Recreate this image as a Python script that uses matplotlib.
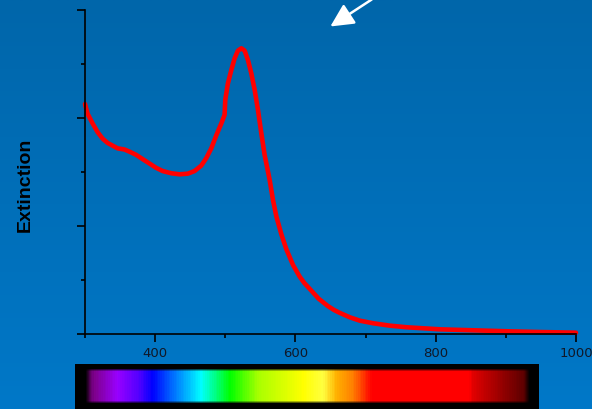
import numpy as np
import matplotlib
matplotlib.use("Agg")
import matplotlib.pyplot as plt
from matplotlib.colors import LinearSegmentedColormap, to_rgb
from matplotlib.patches import FancyArrowPatch

# ---- data ----
wavelength = [300, 303.7, 310.9, 318, 325.1, 332.3, 339.4, 346.6, 356.1, 363.3,
              372.9, 382.3, 391.9, 401.4, 410.9, 422.9, 434.7, 446.6, 456.1, 465.7,
              472.9, 480, 487.1, 494.3, 499, 500, 503.7, 508.6, 513.3, 518,
              522.9, 527.6, 532.3, 537.1, 541.9, 546.6, 551.4, 556.1, 563.3,
              568, 572.9, 580, 587.1, 596.6, 606.1, 613, 620.4, 633, 646.1, 655,
              663.3, 677.6, 691.9, 710.9, 734.7, 758.6, 806.1, 853.7, 901.4, 949,
              1000]
extinction = [2.13, 2.04, 1.95, 1.87, 1.81, 1.77, 1.745, 1.72, 1.71, 1.69,
              1.66, 1.62, 1.58, 1.54, 1.51, 1.49, 1.48, 1.486, 1.51, 1.56,
              1.63, 1.72, 1.84, 1.95, 2.03, 2.17, 2.32, 2.445, 2.553, 2.624,
              2.646, 2.624, 2.537, 2.414, 2.26, 2.075, 1.859, 1.659, 1.427,
              1.242, 1.088, 0.924, 0.786, 0.641, 0.533, 0.472, 0.42, 0.33, 0.262, 0.225,
              0.198, 0.157, 0.126, 0.102, 0.08, 0.065, 0.046, 0.037, 0.028, 0.021,
              0.015]
x_major = [400, 600, 800, 1000]
x_minor = [300, 500, 700, 900]
x_labels = ["400", "600", "800", "1000"]
y_major = [0, 1, 2, 3]
y_minor = [0.5, 1.5, 2.5]
y_label = "Extinction"

# spectrum strip colour stops (relative position in strip, colour)
strip_pos = [0.0, 0.02, 0.07, 0.12, 0.15, 0.19, 0.26, 0.325, 0.39, 0.49,
             0.535, 0.566, 0.602, 0.645, 0.865, 0.875, 1.0]
strip_col = ["#500050", "#800090", "#9900ff", "#5000ff", "#0000ff", "#0060ff",
             "#00ffff", "#00ff00", "#aaff00", "#ffff00", "#ffff40", "#ffb000",
             "#ff8000", "#ff0000", "#ff0000", "#e00000", "#500000"]

W, H = 592, 409
fig = plt.figure(figsize=(W / 100, H / 100), dpi=100)

# background gradient
bg = fig.add_axes([0, 0, 1, 1], zorder=-10)
top = np.array(to_rgb("#0066aa"))
bot = np.array(to_rgb("#0078c8"))
t = np.linspace(0, 1, 256)[:, None]
grad = (top[None, :] * (1 - t) + bot[None, :] * t)[:, None, :]
bg.imshow(grad, aspect="auto", extent=[0, 1, 0, 1], interpolation="bilinear")
bg.set_axis_off()

# main axes
L, R, T, B = 85.0, 576.0, 10.0, 334.3
ax = fig.add_axes([L / W, 1 - B / H, (R - L) / W, (B - T) / H])
ax.patch.set_alpha(0)
ax.plot(wavelength, extinction, color="#ff0000", lw=3.3,
        solid_joinstyle="round", solid_capstyle="round", clip_on=False)
ax.set_xlim(300, 1000)
ax.set_ylim(0, 3)
for s in ["top", "right"]:
    ax.spines[s].set_visible(False)
for s in ["left", "bottom"]:
    ax.spines[s].set_linewidth(1.2)
    ax.spines[s].set_color("black")
ax.set_xticks(x_major)
ax.set_xticklabels(x_labels)
ax.set_xticks(x_minor, minor=True)
ax.set_yticks(y_major)
ax.set_yticklabels([])
ax.set_yticks(y_minor, minor=True)
ax.tick_params(axis="both", which="major", length=5.5, width=1.2, color="black")
ax.tick_params(axis="both", which="minor", length=3, width=1.2, color="black")
ax.tick_params(axis="x", which="major", labelsize=9.5, labelcolor="#101828", pad=4)
for lab in ax.get_xticklabels():
    lab.set_clip_on(False)

fig.text(25 / W, 1 - 185 / H, y_label, rotation=90, ha="center", va="center",
         fontsize=14, fontweight="bold", family="Liberation Sans", color="black")

# spectrum strip
sx0, sx1, sy0, sy1 = 75, 539, 364, 412
sax = fig.add_axes([sx0 / W, 1 - sy1 / H, (sx1 - sx0) / W, (sy1 - sy0) / H])
sax.set_facecolor("black")
sax.set_xlim(sx0, sx1)
sax.set_ylim(sy1, sy0)
sax.set_axis_off()
sax.add_patch(plt.Rectangle((sx0, sy0), sx1 - sx0, sy1 - sy0, color="black"))
cmap = LinearSegmentedColormap.from_list("spec", list(zip(strip_pos, strip_col)))
gx0, gx1, gy0, gy1 = 85, 530, 368, 404
nx, ny = 445, 36
xs = np.linspace(0, 1, nx)
ys = np.linspace(0, 1, ny)
img = cmap(xs)[None, :, :3].repeat(ny, axis=0)
fy = np.clip(np.minimum(ys, 1 - ys) / 0.08, 0, 1)[:, None, None]
fx = np.clip(np.minimum(xs, 1 - xs) / 0.012, 0, 1)[None, :, None]
img = img * fy * fx
sax.imshow(img, extent=[gx0, gx1, gy1, gy0], aspect="auto",
           interpolation="bilinear", zorder=2)

# arrow
def fp(px, py):
    return (px / W, 1 - py / H)

arr = FancyArrowPatch(fp(374, -2), fp(328, 28), transform=fig.transFigure,
                      arrowstyle="-|>,head_length=1.0,head_width=0.5",
                      mutation_scale=14, color="white", lw=1.8)
fig.patches.append(arr)

fig.savefig("out.png", dpi=100)
